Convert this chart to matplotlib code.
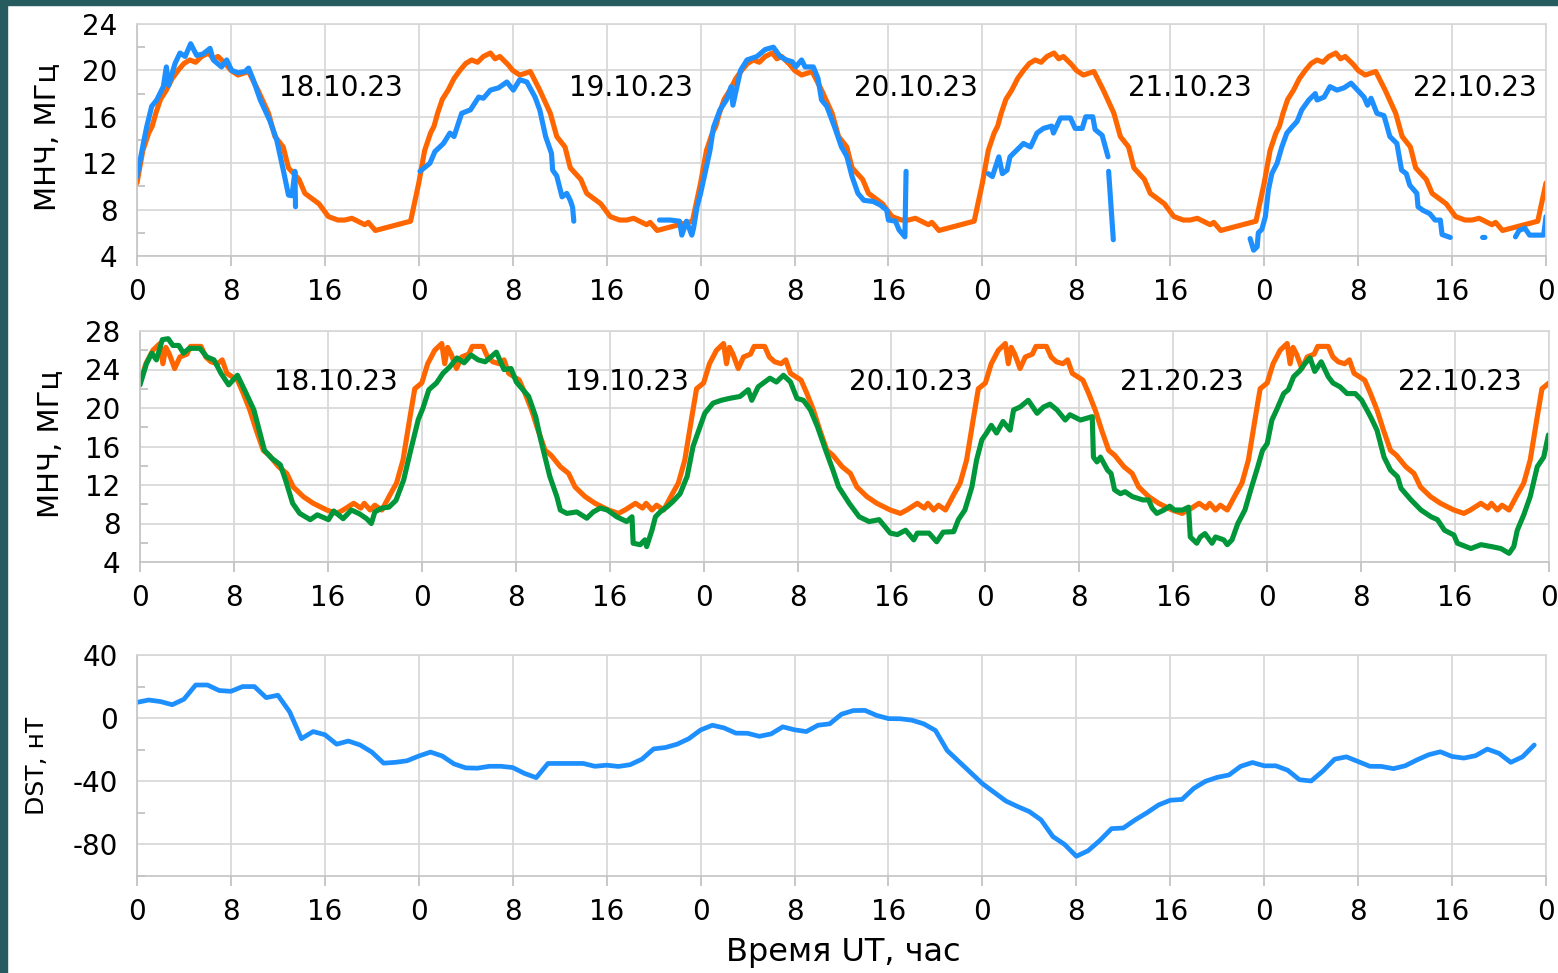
import matplotlib
matplotlib.use('Agg')
import matplotlib.pyplot as plt
from matplotlib.patches import Rectangle
from matplotlib.ticker import FixedLocator
import numpy as np

plt.rcParams['font.family'] = ['DejaVu Sans']
plt.rcParams['axes.unicode_minus'] = False

nan = np.nan
W, H = 1558, 973

days = ['18.10.23', '19.10.23', '20.10.23', '21.10.23', '22.10.23']
days_mid = ['18.10.23', '19.10.23', '20.10.23', '21.20.23', '22.10.23']

# --- panel 1: monthly median (same every day) and observed MUF
med1_h = [0, 0.5, 1.0, 1.3, 1.6, 2.0, 2.5, 3.0, 3.5, 4.0, 4.5, 5.0, 5.5, 6.1, 6.5,
          6.9, 7.6, 8.0, 8.6, 9.2, 9.5, 10.3, 11.2, 11.75, 12.45, 12.9, 13.8, 14.3,
          15.5, 16.3, 17.1, 17.7, 18.3, 18.8, 19.4, 19.7, 20.3, 23.3]
med1_f = [10.3, 13.1, 14.6, 15.2, 16.3, 17.5, 18.3, 19.3, 20.0, 20.6, 20.9, 20.7, 21.2,
          21.5, 21.0, 21.2, 20.5, 20.0, 19.6, 19.8, 19.9, 18.3, 16.3, 14.3, 13.4, 11.6,
          10.6, 9.4, 8.5, 7.4, 7.1, 7.1, 7.25, 7.0, 6.7, 6.9, 6.2, 7.0]

blue_h = [
    [0, 0.54, 0.83, 1.25, 1.68, 2.24, 2.5, 2.7, 3.24, 3.66, 4.1, 4.57, 5.08, 5.6, 6.22,
     6.5, 7.2, 7.64, 8.06, 8.6, 9.2, 9.5, 9.9, 10.5, 11.3, 11.9, 12.46, 12.9, 13.2,
     13.45, 13.5, nan],
    [0.1, 0.95, 1.37, 2.1, 2.65, 3.0, 3.65, 4.4, 5.1, 5.5, 6.1, 6.8, 7.5, 8.05, 8.6,
     9.2, 9.9, 10.3, 10.8, 11.3, 11.4, 11.75, 12.2, 12.6, 12.9, 13.1, 13.2, nan, 20.5,
     21.4, 22.2, 22.4, 22.8, 23.25, 23.4, 23.7],
    [0, 0.8, 1.1, 1.65, 2.2, 2.6, 2.75, 3.4, 3.95, 4.8, 5.5, 6.2, 6.77, 7.3, 7.8, 8.1,
     8.6, 8.9, 9.6, 10.0, 10.3, 10.75, 11.4, 12.0, 12.45, 12.9, 13.4, 13.9, 14.7, 15.3,
     15.85, 16.0, 16.6, 16.9, 17.15, 17.4, 17.5, nan],
    [0.5, 0.85, 1.4, 1.7, 2.1, 2.35, 2.9, 3.5, 4.1, 4.65, 5.2, 5.9, 6.05, 6.65, 7.5,
     7.9, 8.5, 8.8, 9.4, 9.6, 10.2, 10.7, nan, 10.75, 11.15, nan, 22.8, 23.1, 23.4,
     23.5, 23.8],
    [0.1, 0.36, 0.65, 1.1, 1.5, 1.93, 2.35, 2.8, 3.2, 3.8, 4.35, 4.5, 5.1, 5.6, 6.2,
     6.8, 7.4, 7.95, 8.5, 8.8, 9.1, 9.6, 10.2, 10.4, 10.7, 11.3, 11.7, 12.1, 12.4,
     13.0, 13.1, 13.5, 14.1, 14.55, 15.0, 15.15, 15.85, nan, 18.6, 18.8, nan, 21.4,
     21.7, 22.2, 22.6, 23.8, 24.0],
]
blue_f = [
    [10.85, 13.7, 15.15, 16.9, 17.45, 18.6, 20.3, 18.7, 20.6, 21.5, 21.2, 22.3, 21.3,
     21.4, 21.9, 20.9, 20.3, 20.9, 20.0, 19.8, 19.9, 20.2, 19.2, 17.45, 15.7, 14.0,
     11.4, 9.25, 9.2, 11.3, 8.25, nan],
    [11.3, 12.0, 13.0, 13.7, 14.6, 14.3, 16.3, 16.6, 17.7, 17.6, 18.3, 18.5, 19.0,
     18.3, 19.2, 19.0, 17.7, 16.6, 14.3, 12.85, 11.4, 10.9, 9.1, 9.4, 8.8, 8.2, 7.0,
     nan, 7.1, 7.1, 7.0, 5.8, 7.0, 5.8, 6.4, 8.25],
    [9.4, 13.1, 15.1, 16.6, 17.45, 18.6, 17.0, 20.0, 20.9, 21.2, 21.8, 22.0, 21.2,
     20.9, 20.75, 20.3, 20.9, 20.3, 20.3, 19.3, 17.45, 16.9, 15.15, 13.4, 12.6, 10.85,
     9.4, 8.8, 8.7, 8.4, 7.95, 7.1, 7.0, 6.25, 5.95, 5.65, 11.3, nan],
    [11.1, 10.85, 12.55, 11.1, 11.4, 12.55, 13.1, 13.7, 13.4, 14.6, 15.0, 15.2, 14.6,
     15.9, 15.9, 15.0, 15.0, 16.0, 16.0, 14.9, 14.4, 12.55, nan, 11.3, 5.4, nan, 5.5,
     4.5, 4.8, 6.0, 6.3],
    [7.4, 9.7, 11.1, 12.0, 13.4, 14.6, 15.1, 15.6, 16.6, 17.45, 18.0, 17.45, 17.7,
     18.6, 18.3, 18.5, 18.9, 18.3, 17.7, 17.0, 17.6, 16.3, 16.1, 15.4, 14.3, 13.7,
     11.4, 11.1, 10.1, 9.4, 8.25, 7.95, 7.65, 7.1, 7.1, 5.85, 5.6, nan, 5.6, 5.6, nan,
     5.65, 6.2, 6.4, 5.8, 5.8, 7.4],
]

# --- panel 2: monthly median (same every day) and observed MUF
med2_h = [0, 0.5, 1.1, 1.7, 1.95, 2.2, 2.5, 2.95, 3.4, 4.0, 4.3, 5.2, 5.6, 6.05, 6.6,
          7.0, 7.4, 8.3, 8.8, 9.35, 9.9, 10.5, 11.0, 11.8, 12.5, 13.05, 13.9, 14.75,
          15.9, 16.75, 17.3, 18.2, 18.8, 19.1, 19.6, 20.0, 20.6, 21.3, 21.85, 22.4,
          23.0, 23.4]
med2_f = [22.6, 24.6, 26.0, 26.7, 24.6, 26.3, 25.6, 24.1, 25.3, 25.6, 26.4, 26.4,
          25.3, 24.8, 24.6, 25.0, 23.6, 22.9, 21.5, 19.8, 17.7, 15.6, 15.1, 13.9, 13.2,
          11.8, 10.8, 10.1, 9.4, 9.05, 9.4, 10.1, 9.6, 10.1, 9.4, 9.9, 9.4, 11.0, 12.2,
          14.6, 19.1, 22.0]

green_h = [
    [0, 0.55, 1.0, 1.4, 1.9, 2.4, 2.8, 3.3, 3.7, 4.2, 5.1, 5.7, 6.3, 6.9, 7.55, 8.3,
     9.05, 9.7, 10.6, 11.2, 11.95, 12.4, 13.0, 13.6, 14.5, 15.1, 16.05, 16.5, 17.3,
     18.0, 18.7, 19.3, 19.7, 20.0, 20.6, 21.2, 21.8, 22.45, 23.05, 23.7],
    [0.1, 0.6, 1.25, 1.8, 2.4, 3.0, 3.6, 4.2, 4.8, 5.4, 6.35, 7.0, 7.6, 8.05, 9.1, 9.7,
     10.07, 10.9, 11.5, 11.8, 12.35, 13.2, 14.05, 14.6, 15.2, 15.8, 16.6, 17.45, 17.9,
     18.0, 18.6, 19.0, 19.15, 19.6, 19.9, 20.3, 20.9, 21.4, 22.0, 22.6, 23.1, 23.7],
    [0.1, 0.8, 1.5, 2.2, 3.1, 3.8, 4.1, 4.65, 5.65, 6.2, 6.8, 7.4, 7.95, 8.5, 9.1, 9.7,
     10.4, 11.0, 11.5, 12.4, 13.25, 14.1, 14.95, 15.9, 16.5, 17.2, 17.9, 18.2, 19.2,
     19.85, 20.4, 21.3, 21.7, 22.25, 22.85, 23.25, 23.7],
    [0.1, 0.5, 0.95, 1.5, 2.1, 2.4, 2.95, 3.65, 4.4, 4.95, 5.5, 6.1, 6.8, 7.2, 8.1, 9.1,
     9.2, 9.5, 9.8, 10.4, 10.7, 11.0, 11.5, 11.9, 12.5, 13.4, 13.9, 14.2, 14.6, 15.2,
     15.7, 16.1, 16.8, 17.3, 17.45, 18.0, 18.3, 18.7, 19.3, 19.6, 20.3, 20.6, 21.0,
     21.5, 22.1, 22.6, 23.2, 23.6],
    [0.0, 0.4, 0.8, 1.4, 1.8, 2.25, 2.8, 3.2, 3.65, 4.05, 4.6, 5.2, 5.6, 6.2, 6.8, 7.5,
     8.05, 8.8, 9.35, 9.95, 10.5, 11.1, 11.4, 12.25, 13.1, 13.95, 14.5, 15.1, 15.9,
     16.2, 17.35, 18.2, 19.1, 19.9, 20.6, 21.0, 21.3, 21.85, 22.4, 23.0, 23.55, 23.95],
]
green_f = [
    [22.4, 24.6, 25.7, 25.0, 27.1, 27.2, 26.5, 26.5, 25.7, 26.2, 26.2, 25.3, 25.0,
     23.6, 22.4, 23.4, 21.5, 19.8, 15.6, 14.8, 14.1, 12.5, 10.1, 9.05, 8.4, 8.9, 8.4,
     9.3, 8.5, 9.4, 9.0, 8.5, 8.0, 9.2, 9.6, 9.7, 10.4, 12.5, 15.6, 18.8],
    [20.0, 21.9, 22.6, 23.6, 24.3, 25.2, 24.7, 25.5, 25.0, 24.8, 25.8, 24.0, 24.1,
     22.7, 21.2, 19.1, 17.0, 12.9, 10.8, 9.4, 9.05, 9.2, 8.55, 9.2, 9.6, 9.4, 8.7, 8.2,
     8.7, 5.95, 5.8, 6.3, 5.6, 7.3, 8.7, 9.2, 9.75, 10.3, 11.1, 12.9, 16.0, 18.05],
    [19.45, 20.5, 20.8, 21.0, 21.2, 21.9, 20.8, 22.2, 23.1, 22.7, 23.4, 22.7, 21.0,
     20.8, 19.8, 18.05, 15.6, 13.6, 11.8, 10.1, 8.7, 8.2, 8.4, 7.0, 6.85, 7.3, 6.3, 7.0,
     7.0, 6.1, 7.1, 7.15, 8.4, 9.4, 11.8, 14.6, 16.7],
    [17.4, 18.2, 17.4, 18.6, 17.7, 19.8, 20.1, 20.8, 19.45, 20.1, 20.4, 19.8, 18.75,
     19.3, 18.75, 19.1, 14.9, 14.4, 14.9, 13.55, 13.2, 11.5, 11.1, 11.3, 10.8, 10.45,
     10.45, 9.6, 9.05, 9.4, 9.8, 9.4, 9.4, 9.7, 6.6, 5.95, 6.6, 6.95, 5.95, 6.6, 6.3,
     5.8, 6.3, 8.0, 9.4, 11.5, 13.9, 15.6],
    [16.3, 18.75, 19.8, 21.5, 21.9, 23.25, 23.9, 24.6, 25.2, 23.8, 24.8, 23.25, 22.6,
     22.2, 21.5, 21.5, 20.8, 19.1, 17.7, 14.9, 13.55, 12.85, 11.65, 10.45, 9.4, 8.7,
     8.4, 7.3, 6.8, 5.95, 5.4, 5.8, 5.6, 5.4, 4.9, 5.6, 7.3, 8.9, 10.8, 13.9, 14.9,
     17.2],
]

# --- panel 3: hourly Dst index, nT
dst = [10, 11.5, 10.5, 8.5, 12, 21, 21, 17.5, 17, 20,
       20, 13, 14.5, 4, -13, -8.5, -10.5, -16.5, -14.5, -17,
       -21.5, -28.5, -28, -27, -24, -21.5, -24, -29, -31.5, -31.7,
       -30.5, -30.5, -31.3, -35, -37.7, -28.7, -28.7, -28.7, -28.7, -30.5,
       -29.8, -30.6, -29.5, -26, -19.5, -18.6, -16.5, -13, -7.5, -4.5,
       -6.2, -9.5, -9.6, -11.5, -10, -5.5, -7.4, -8.5, -4.5, -3.6,
       2.5, 4.8, 4.9, 1.7, -0.3, -0.4, -1.3, -3.6, -7.8, -20.5,
       -27.5, -34.5, -41.5, -47, -52.5, -56, -59.2, -64.5, -75, -80,
       -87.5, -84, -77.5, -70, -69.6, -64.5, -60, -55, -52, -51.5,
       -44.5, -40, -37.5, -36, -30.5, -28.1, -30.2, -30.2, -33, -39,
       -39.8, -33.5, -26, -24.5, -27.5, -30.5, -30.6, -32, -30.2, -26.5,
       -23.2, -21.3, -24.3, -25.3, -23.8, -19.6, -22.3, -28, -24.5, -17]

ORANGE = '#ff6600'
BLUE = '#1e8fff'
GREEN = '#00963a'
GRID = '#d6d6d6'
LW = 3.7


def join_days(hours, vals):
    t = np.concatenate([np.asarray(h, float) + 24 * i for i, h in enumerate(hours)])
    v = np.concatenate([np.asarray(x, float) for x in vals])
    return t, v


def tile_median(h, f, ndays=5):
    t = np.concatenate([np.asarray(h, float) + 24 * i for i in range(ndays)] + [[24.0 * ndays]])
    v = np.concatenate([np.asarray(f, float)] * ndays + [[f[0]]])
    return t, v


def style_axis(ax, ylim, yticks, yminor):
    ax.set_xlim(0, 120)
    ax.set_ylim(*ylim)
    xt = np.arange(0, 121, 8)
    ax.set_xticks(xt)
    ax.set_xticklabels([str(int(x) % 24) for x in xt])
    ax.set_yticks(yticks)
    ax.yaxis.set_minor_locator(FixedLocator(yminor))
    ax.grid(True, which='major', color=GRID, lw=1.2)
    ax.set_axisbelow(True)
    ax.tick_params(axis='x', which='major', direction='out', length=7, width=1.2,
                   color='#bdbdbd', labelsize=20, pad=9)
    ax.tick_params(axis='y', which='major', length=0, labelsize=20, pad=14)
    ax.tick_params(axis='y', which='minor', direction='in', length=6, width=1.2,
                   color='#bdbdbd')
    for s in ax.spines.values():
        s.set_color(GRID)
        s.set_linewidth(1.2)
    ax.spines['left'].set_color('#c4c4c4')
    ax.spines['bottom'].set_color('#c4c4c4')


def draw(ax, t, v, color, lw=LW):
    ax.plot(t, v, color=color, lw=lw, solid_capstyle='round', solid_joinstyle='round')


fig = plt.figure(figsize=(W / 100, H / 100), dpi=100)
fig.patches.append(Rectangle((0, 0), 7 / W, 1, transform=fig.transFigure,
                             color='#265b5f', zorder=0))
fig.patches.append(Rectangle((0, 1 - 5 / H), 1, 5 / H, transform=fig.transFigure,
                             color='#265b5f', zorder=0))

ax1 = fig.add_axes([137 / W, 1 - 256 / H, 1409 / W, 232 / H])
ax2 = fig.add_axes([140 / W, 1 - 562 / H, 1409 / W, 231 / H])
ax3 = fig.add_axes([137 / W, 1 - 876 / H, 1409 / W, 221 / H])

# panel 1
draw(ax1, *tile_median(med1_h, med1_f), ORANGE)
draw(ax1, *join_days(blue_h, blue_f), BLUE)
style_axis(ax1, (4, 24), np.arange(4, 25, 4), np.arange(6, 24, 4))
for i, (d, off) in enumerate(zip(days, [17.4, 18.1, 18.3, 17.7, 17.9])):
    ax1.text(24 * i + off, 18.5, d, ha='center', va='center', fontsize=20)

# panel 2
draw(ax2, *tile_median(med2_h, med2_f), ORANGE)
draw(ax2, *join_days(green_h, green_f), GREEN)
style_axis(ax2, (4, 28), np.arange(4, 29, 4), np.arange(6, 28, 4))
for i, (d, off) in enumerate(zip(days_mid, [16.7, 17.5, 17.7, 16.7, 16.4])):
    ax2.text(24 * i + off, 22.7, d, ha='center', va='center', fontsize=20)

# panel 3
draw(ax3, np.arange(len(dst)), dst, BLUE, lw=3.4)
style_axis(ax3, (-100, 40), [-80, -40, 0, 40], [-100, -60, -20, 20])

fig.text(47 / W, 1 - 137 / H, 'МНЧ, МГц', rotation=90, ha='center', va='center', fontsize=21)
fig.text(50 / W, 1 - 444 / H, 'МНЧ, МГц', rotation=90, ha='center', va='center', fontsize=21)
fig.text(37 / W, 1 - 766 / H, 'DST, нТ', rotation=90, ha='center', va='center', fontsize=18)
fig.text(843 / W, 1 - 953 / H, 'Время UT, час', ha='center', va='center', fontsize=23)

fig.savefig('out.png', dpi=100, facecolor='white')
